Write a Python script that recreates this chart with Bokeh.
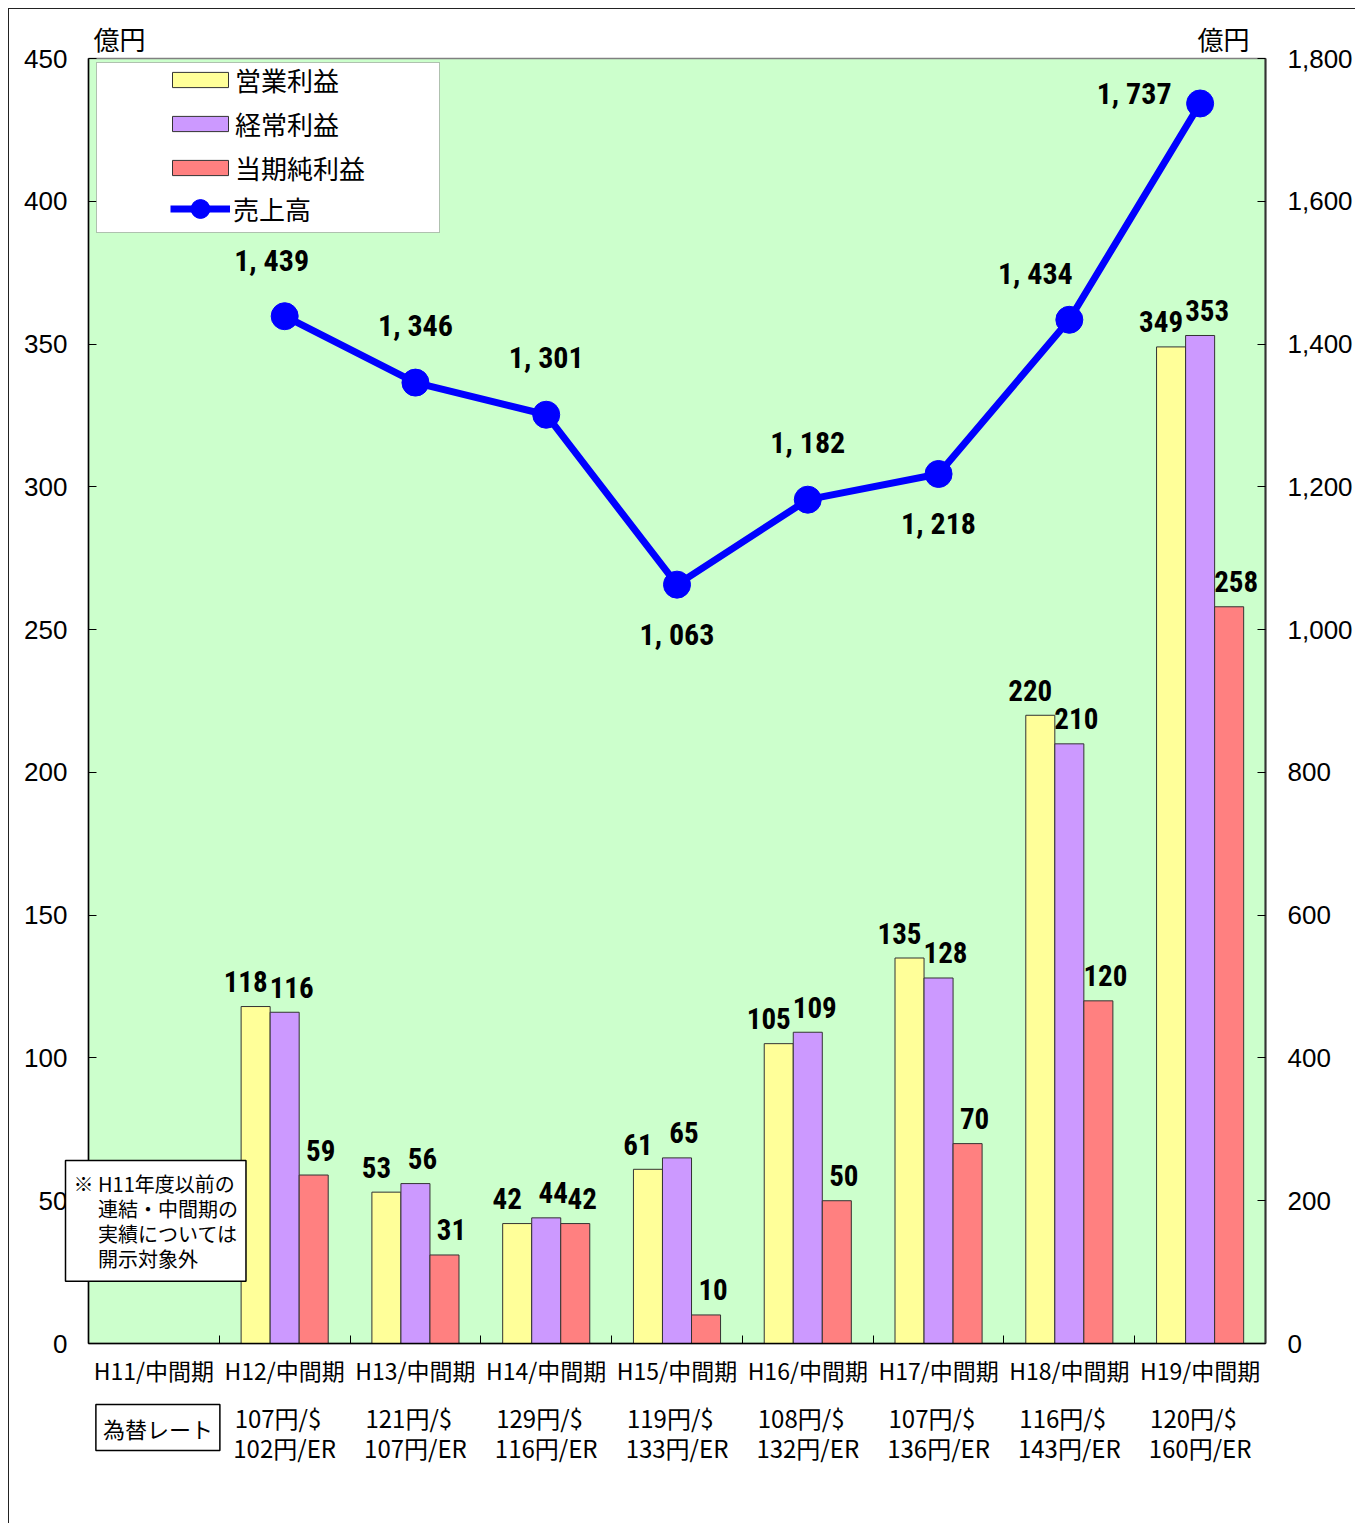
import numpy as np
from bokeh.plotting import figure
from bokeh.models import (Range1d, LinearAxis, FixedTicker, NumeralTickFormatter,
                          ColumnDataSource, LabelSet, Label, Legend, LegendItem, BoxAnnotation)
from bokeh.transform import dodge
from bokeh.core.properties import value
from bokeh.embed import file_html
from bokeh.resources import INLINE

# ---------------- data ----------------
categories = ["H11/中間期", "H12/中間期", "H13/中間期", "H14/中間期", "H15/中間期",
              "H16/中間期", "H17/中間期", "H18/中間期", "H19/中間期"]
operating_profit = [None, 118, 53, 42, 61, 105, 135, 220, 349]   # 営業利益 (億円)
ordinary_profit = [None, 116, 56, 44, 65, 109, 128, 210, 353]    # 経常利益 (億円)
net_profit = [None, 59, 31, 42, 10, 50, 70, 120, 258]            # 当期純利益 (億円)
net_sales = [None, 1439, 1346, 1301, 1063, 1182, 1218, 1434, 1737]  # 売上高 (億円)
usd_rates = ["", "107円/$", "121円/$", "129円/$", "119円/$", "108円/$", "107円/$", "116円/$", "120円/$"]
eur_rates = ["", "102円/ER", "107円/ER", "116円/ER", "133円/ER", "132円/ER", "136円/ER", "143円/ER", "160円/ER"]
left_ticks = [0, 50, 100, 150, 200, 250, 300, 350, 400, 450]
right_ticks = [0, 200, 400, 600, 800, 1000, 1200, 1400, 1600, 1800]
sales_label_place = ["", "above_l", "above", "above", "below", "above", "below", "above_left", "left"]

# ---------------- styling ----------------
JP = "'Noto Sans CJK JP', sans-serif"
NUM = "'Liberation Sans', Arial, sans-serif"
BOLDN = "'Roboto Condensed', 'Liberation Sans Narrow', Roboto, sans-serif"
C_OP, C_ORD, C_NET, C_LINE = "#FFFF99", "#CC99FF", "#FF8080", "#0000FF"
BG = "#CCFFCC"
FRAME_W, FRAME_H = 1177, 1285
BAR_W = 0.222
place_offsets = {"": (0, 0), "above": (0, 57), "above_l": (-13, 56), "below": (0, -50),
                 "above_left": (-34, 46), "left": (-66, 10)}

n = len(categories)
centers = [i + 0.5 for i in range(n)]


def arr(v):
    return np.array([np.nan if a is None else a for a in v], dtype=float)


def txt(v):
    return ["" if a is None else str(a) for a in v]


src = ColumnDataSource(dict(
    x=centers,
    op=arr(operating_profit), ordp=arr(ordinary_profit), net=arr(net_profit),
    sales=arr(net_sales),
    op_t=txt(operating_profit), ord_t=txt(ordinary_profit), net_t=txt(net_profit),
    sales_t=["" if a is None else f"{a:,}".replace(",", ", ") for a in net_sales],
    s_dx=[place_offsets[k][0] for k in sales_label_place],
    s_dy=[place_offsets[k][1] for k in sales_label_place],
))

p = figure(frame_width=FRAME_W, frame_height=FRAME_H,
           x_range=Range1d(0, n), y_range=Range1d(0, 450),
           output_backend="svg", toolbar_location=None,
           min_border_left=79, min_border_right=85, min_border_top=49, min_border_bottom=165,
           background_fill_color=BG, border_fill_color="white",
           outline_line_color="#808080", outline_line_width=1.5)
p.styles = {"margin-left": "8px", "margin-top": "8px",
            "border-left": "1px solid #222", "border-top": "1px solid #222"}
p.xgrid.visible = False
p.ygrid.visible = False
p.extra_y_ranges = {"sales": Range1d(0, 1800)}

xa = p.below[0]
ya = p.left[0]

# left axis
ya.ticker = FixedTicker(ticks=left_ticks, minor_ticks=[])
ya.major_tick_in = 8
ya.major_tick_out = 0
ya.major_tick_line_color = "#000000"
ya.major_label_standoff = 21
ya.major_label_text_font = NUM
ya.major_label_text_font_size = "26px"
ya.major_label_text_color = "#000000"
ya.axis_line_color = "#000000"
ya.axis_line_width = 1.5

# right axis
ra = LinearAxis(y_range_name="sales", ticker=FixedTicker(ticks=right_ticks, minor_ticks=[]),
                formatter=NumeralTickFormatter(format="0,0"))
ra.major_tick_in = 8
ra.major_tick_out = 0
ra.major_tick_line_color = "#000000"
ra.major_label_standoff = 22
ra.major_label_text_font = NUM
ra.major_label_text_font_size = "26px"
ra.major_label_text_color = "#000000"
ra.axis_line_color = "#333333"
ra.axis_line_width = 2
p.add_layout(ra, "right")

# x axis: labels at centers, ticks at boundaries
xa.ticker = FixedTicker(ticks=centers, minor_ticks=list(range(n + 1)))
xa.major_label_overrides = {c: cat for c, cat in zip(centers, categories)}
xa.major_tick_line_color = None
xa.major_tick_in = 0
xa.major_tick_out = 0
xa.minor_tick_in = 8
xa.minor_tick_out = 0
xa.minor_tick_line_color = "#000000"
xa.major_label_standoff = 9
xa.major_label_text_font = JP
xa.major_label_text_font_size = "23px"
xa.major_label_text_color = "#000000"
xa.axis_line_color = "#000000"
xa.axis_line_width = 1.5

# unit captions (億円) as an unlined axis above the frame
u_left, u_right = 31 / FRAME_W * n, 1135 / FRAME_W * n
ua = LinearAxis(ticker=FixedTicker(ticks=[u_left, u_right], minor_ticks=[]))
ua.major_label_overrides = {u_left: "億円", u_right: "億円"}
ua.axis_line_color = None
ua.major_tick_line_color = None
ua.minor_tick_line_color = None
ua.major_tick_in = 0
ua.major_tick_out = 0
ua.major_label_standoff = 2
ua.major_label_text_font = JP
ua.major_label_text_font_size = "26px"
ua.major_label_text_color = "#000000"
p.add_layout(ua, "above")

# exchange rates as a second, unlined axis below
rate_ticks = [c for c, u in zip(centers, usd_rates) if u]
xr = LinearAxis(ticker=FixedTicker(ticks=rate_ticks, minor_ticks=[]))
xr.major_label_overrides = {c: f"{u}\u2007\n{e}" for c, u, e in zip(centers, usd_rates, eur_rates) if u}
xr.axis_line_color = None
xr.major_tick_line_color = None
xr.minor_tick_line_color = None
xr.major_label_standoff = 4
xr.major_label_text_font = JP
xr.major_label_text_font_size = "24px"
xr.major_label_text_line_height = 0.86
xr.major_label_text_color = "#000000"
p.add_layout(xr, "below")

# bars
r_op = p.vbar(x=dodge("x", -BAR_W), top="op", width=BAR_W, source=src,
              fill_color=C_OP, line_color="#333333", line_width=1)
r_ord = p.vbar(x=dodge("x", 0), top="ordp", width=BAR_W, source=src,
               fill_color=C_ORD, line_color="#333333", line_width=1)
r_net = p.vbar(x=dodge("x", BAR_W), top="net", width=BAR_W, source=src,
               fill_color=C_NET, line_color="#333333", line_width=1)

# sales line
r_line = p.line(x="x", y="sales", y_range_name="sales", source=src,
                line_color=C_LINE, line_width=7)
r_pts = p.scatter(x="x", y="sales", y_range_name="sales", source=src,
                  marker="circle", size=27, fill_color=C_LINE, line_color=C_LINE)

# bar value labels
for col, t, dx in (("op", "op_t", -10), ("ordp", "ord_t", 7), ("net", "net_t", 7)):
    off = {"op": -BAR_W, "ordp": 0, "net": BAR_W}[col]
    p.add_layout(LabelSet(x=dodge("x", off), y=col, text=t, source=src,
                          x_offset=dx, y_offset=25, text_align="center", text_baseline="middle",
                          text_font=value(BOLDN), text_font_style="bold",
                          text_font_size="29px", text_color="#000000"))

# sales value labels
p.add_layout(LabelSet(x="x", y="sales", y_range_name="sales", text="sales_t", source=src,
                      x_offset="s_dx", y_offset="s_dy", text_align="center", text_baseline="middle",
                      text_font=value(BOLDN), text_font_style="bold",
                      text_font_size="30px", text_color="#000000"))

# exchange-rate caption box (in the panel below the frame)
p.add_layout(Label(x=0.5, y=0, x_offset=4, y_offset=-84, text="為替レート", text_align="center",
                   text_baseline="middle", text_font=JP, text_font_size="22px", text_color="#000000",
                   border_line_color="#000000", border_line_width=1.5,
                   background_fill_color="white", padding=7), "below")

# note box
p.add_layout(Label(x=0, y=0, x_offset=-23, y_offset=183,
                   text="※ H11年度以前の\n　 連結・中間期の\n　 実績については\n　 開示対象外",
                   text_align="left", text_baseline="top", text_font=JP, text_font_size="20px",
                   text_line_height=0.87, text_color="#000000",
                   border_line_color="#000000", border_line_width=1.5,
                   background_fill_color="white", padding=8), "below")

# legend box + legends
px2x = n / FRAME_W
px2y = 450 / FRAME_H
p.add_layout(BoxAnnotation(left=(96 - 88) * px2x, right=(439 - 88) * px2x,
                           top=(1343 - 62) * px2y, bottom=(1343 - 232) * px2y,
                           fill_color="white", fill_alpha=1, line_color="#333333", line_width=1))

leg1 = Legend(items=[LegendItem(label=value("営業利益"), renderers=[r_op]),
                     LegendItem(label=value("経常利益"), renderers=[r_ord]),
                     LegendItem(label=value("当期純利益"), renderers=[r_net])],
              location=(77, 1157), orientation="vertical", padding=0, margin=0, spacing=7,
              glyph_width=70, glyph_height=19, label_height=30, label_standoff=0,
              label_text_font=JP, label_text_font_size="26px", label_text_color="#000000",
              background_fill_alpha=0, border_line_alpha=0)
leg2 = Legend(items=[LegendItem(label=value("売上高"), renderers=[r_line, r_pts])],
              location=(82, 1111), orientation="vertical", padding=0, margin=0, spacing=0,
              glyph_width=60, glyph_height=47, label_height=30, label_standoff=3,
              label_text_font=JP, label_text_font_size="26px", label_text_color="#000000",
              background_fill_alpha=0, border_line_alpha=0)
p.add_layout(leg1)
p.add_layout(leg2)

open("out.html", "w").write(file_html(p, INLINE))
